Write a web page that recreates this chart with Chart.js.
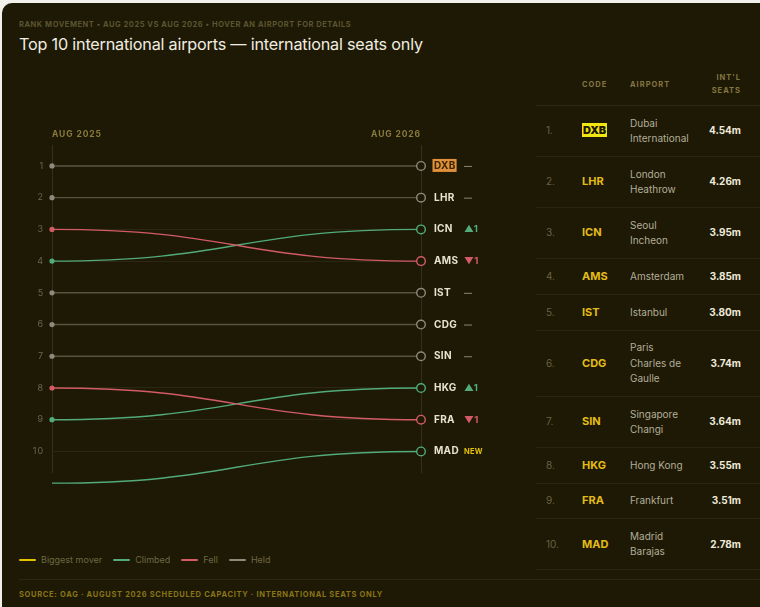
<!DOCTYPE html>
<html>
<head>
<meta charset="utf-8">
<script src="https://cdn.jsdelivr.net/npm/chart.js@4.4.1/dist/chart.umd.min.js"></script>
<style>
  html, body { margin: 0; padding: 0; background: #f2f0ea; }
  body { width: 760px; height: 607px; overflow: hidden; position: relative; font-family: Inter, "Noto Sans", sans-serif; }
  .card { position: absolute; left: 2px; top: 3px; width: 800px; height: 640px; background: #1d1905; border-radius: 10px; }
  .sub { position: absolute; left: 19px; top: 20px; font-size: 7.5px; font-weight: 700; letter-spacing: 0.54px; color: #5c5431; }
  .title { position: absolute; left: 19px; top: 34px; font-size: 16.2px; color: #f1ece0; letter-spacing: -0.2px; }
  #chartWrap { position: absolute; left: 0; top: 0; width: 536px; height: 500px; }
  .legend { position: absolute; left: 19px; top: 554px; font-size: 9px; color: #6e6743; display: flex; align-items: center; }
  .legend span.sw { display: inline-block; width: 17px; height: 2px; margin-right: 5px; border-radius: 1px; }
  .legend span.it { margin-right: 11px; display: flex; align-items: center; }
  .foot-line { position: absolute; left: 19px; top: 579px; width: 760px; height: 1px; background: #2c2711; }
  .source { position: absolute; left: 19px; top: 590px; font-size: 7.5px; font-weight: 700; letter-spacing: 0.69px; color: #8a7416; }
  table { position: absolute; left: 536px; top: 71px; width: 224px; border-collapse: collapse; }
  th { font-size: 7.5px; font-weight: 700; letter-spacing: 1px; color: #857640; text-align: left; padding: 0 0 8px 0; vertical-align: middle; line-height: 13px; border-bottom: 1px solid #2e2913; }
  td { font-size: 10px; line-height: 15.2px; padding: 9.8px 0; border-bottom: 1px solid #2a2510; vertical-align: middle; }
  td.rk { color: #6a6141; padding-left: 10px; width: 36px; }
  td.cd { color: #e3bc16; font-weight: 700; font-size: 11px; width: 48px; }
  td.cd b { background: #f3e50f; color: #1d1905; padding: 0 1px; }
  td.nm { color: #b3ad97; width: 64px; }
  td.nm div { width: 62px; }
  td.st { color: #efe9da; font-weight: 700; font-size: 10px; text-align: right; padding-right: 19px; }
  th.st { text-align: right; padding-right: 19px; }
</style>
</head>
<body>
<div class="card"></div>
<div class="sub">RANK MOVEMENT • AUG 2025 VS AUG 2026 • HOVER AN AIRPORT FOR DETAILS</div>
<div class="title">Top 10 international airports — international seats only</div>
<div id="chartWrap"><canvas id="bump" width="536" height="500"></canvas></div>
<table id="tbl"></table>
<div class="legend" id="legend"></div>
<div class="foot-line"></div>
<div class="source">SOURCE: OAG · AUGUST 2026 SCHEDULED CAPACITY · INTERNATIONAL SEATS ONLY</div>
<script>
// airports in Aug 2026 order
const codes = ["DXB", "LHR", "ICN", "AMS", "IST", "CDG", "SIN", "HKG", "FRA", "MAD"];
const names = ["Dubai International", "London Heathrow", "Seoul Incheon", "Amsterdam", "Istanbul",
  "Paris Charles de Gaulle", "Singapore Changi", "Hong Kong", "Frankfurt", "Madrid Barajas"];
const seats = [4.54, 4.26, 3.95, 3.85, 3.80, 3.74, 3.64, 3.55, 3.51, 2.78]; // millions
const rank2025 = [1, 2, 4, 3, 5, 6, 7, 9, 8, 11]; // 11 = outside the top 10
const rank2026 = [1, 2, 3, 4, 5, 6, 7, 8, 9, 10];
const rankTicks = [1, 2, 3, 4, 5, 6, 7, 8, 9, 10];
const periods = ["AUG 2025", "AUG 2026"];

const BG = "#1d1905";
const colors = { up: "#52ab78", down: "#d25b65", held: "#8e897b", heldLine: "#58533f", big: "#e5c100" };

function status(i) {
  if (rank2025[i] > 10) return "new";
  if (rank2025[i] > rank2026[i]) return "up";
  if (rank2025[i] < rank2026[i]) return "down";
  return "held";
}
function colorFor(i) {
  const s = status(i);
  if (s === "up" || s === "new") return colors.up;
  if (s === "down") return colors.down;
  return colors.held;
}

const datasets = codes.map((c, i) => {
  const col = colorFor(i);
  return {
    label: c,
    data: [{ x: 0, y: rank2025[i] }, { x: 1, y: rank2026[i] }],
    showLine: false,
    clip: false,
    pointRadius: [2.6, 4.3],
    pointBackgroundColor: [col, BG],
    pointBorderColor: [col, col],
    pointBorderWidth: [0, 1.4],
  };
});

// smooth S-curves between the two rank positions + end labels
const curves = {
  id: "curves",
  beforeDraw(chart) {
    chart.ctx.letterSpacing = "0.9px"; // spaced axis headings
  },
  beforeDatasetsDraw(chart) {
    const ctx = chart.ctx;
    ctx.letterSpacing = "0px";
    chart.data.datasets.forEach((ds, i) => {
      const pts = chart.getDatasetMeta(i).data;
      const a = pts[0], b = pts[1];
      const mid = (a.x + b.x) / 2;
      ctx.save();
      ctx.strokeStyle = status(i) === "held" ? colors.heldLine : colorFor(i);
      ctx.lineWidth = 1.4;
      ctx.beginPath();
      ctx.moveTo(a.x, a.y);
      ctx.bezierCurveTo(mid, a.y, mid, b.y, b.x, b.y);
      ctx.stroke();
      ctx.restore();
    });
  },
  afterDatasetsDraw(chart) {
    const ctx = chart.ctx;
    ctx.save();
    ctx.textBaseline = "middle";
    ctx.letterSpacing = "0.3px";
    chart.data.datasets.forEach((ds, i) => {
      const p = chart.getDatasetMeta(i).data[1];
      const x = p.x + 13, y = p.y;
      ctx.font = "700 10px Inter";
      const w = ctx.measureText(codes[i]).width;
      if (i === 0) {
        ctx.fillStyle = "#e0903a";
        ctx.fillRect(x - 1.5, y - 7, w + 2.5, 13);
        ctx.fillStyle = "#3a2406";
      } else {
        ctx.fillStyle = "#e8e2ce";
      }
      ctx.fillText(codes[i], x, y);
      const dx = x + 30;
      const s = status(i);
      const diff = Math.abs(rank2025[i] - rank2026[i]);
      if (s === "held") {
        ctx.strokeStyle = "#8a8570";
        ctx.lineWidth = 1;
        ctx.beginPath();
        ctx.moveTo(dx, y + 0.5);
        ctx.lineTo(dx + 8, y + 0.5);
        ctx.stroke();
      } else if (s === "new") {
        ctx.font = "700 7.5px Inter";
        ctx.fillStyle = colors.big;
        ctx.fillText("NEW", dx, y);
      } else {
        ctx.font = "700 9.5px Inter";
        ctx.fillStyle = s === "up" ? colors.up : colors.down;
        ctx.fillText((s === "up" ? "▲" : "▼") + diff, dx, y);
      }
    });
    ctx.restore();
  }
};

Chart.defaults.font.family = "Inter";

new Chart(document.getElementById("bump"), {
  type: "scatter",
  data: { datasets },
  plugins: [curves],
  options: {
    responsive: false,
    animation: false,
    layout: { padding: { top: 125, right: 115, bottom: 27, left: 0 } },
    plugins: { legend: { display: false }, tooltip: { enabled: false } },
    scales: {
      x: {
        type: "linear",
        position: "top",
        min: 0,
        max: 1,
        afterBuildTicks: (s) => { s.ticks = [{ value: 0 }, { value: 1 }]; },
        afterFit: (s) => { s.height = 20; },
        border: { display: false },
        grid: { color: "#35301a", drawTicks: false, lineWidth: 1 },
        ticks: {
          align: "inner",
          padding: 5,
          color: "#8a7a3c",
          font: { size: 8.5, weight: "700" },
          callback: (v) => periods[v],
        },
      },
      y: {
        type: "linear",
        reverse: true,
        min: 0.34,
        max: 10.68,
        afterBuildTicks: (s) => { s.ticks = rankTicks.map((v) => ({ value: v })); },
        afterFit: (s) => { s.width = 52; },
        border: { display: false },
        grid: { color: "#2c2712", drawTicks: false },
        ticks: { padding: 8, color: "#6b6550", font: { size: 9 } },
      },
    },
  },
});

// side table
let html = "<tr><th></th><th>CODE</th><th>AIRPORT</th><th class='st'>INT'L<br>SEATS</th></tr>";
codes.forEach((c, i) => {
  const code = i === 0 ? "<b>" + c + "</b>" : c;
  html += "<tr><td class='rk'>" + rank2026[i] + ".</td><td class='cd'>" + code + "</td><td class='nm'><div>" +
    names[i] + "</div></td><td class='st'>" + seats[i].toFixed(2) + "m</td></tr>";
});
document.getElementById("tbl").innerHTML = html;

// legend
const legendItems = [["Biggest mover", colors.big], ["Climbed", colors.up], ["Fell", colors.down], ["Held", colors.held]];
document.getElementById("legend").innerHTML = legendItems
  .map(([t, c]) => "<span class='it'><span class='sw' style='background:" + c + "'></span>" + t + "</span>")
  .join("");
</script>
</body>
</html>
